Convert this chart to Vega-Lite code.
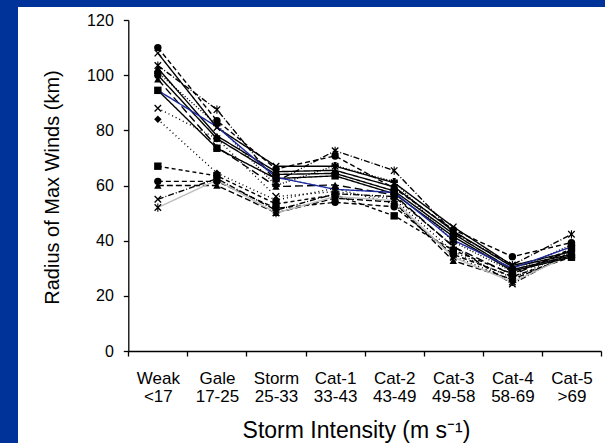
{
  "$schema": "https://vega.github.io/schema/vega-lite/v6.json",
  "width": 587,
  "height": 436,
  "autosize": {"type": "none"},
  "padding": {"left": 18, "top": 7, "right": 0, "bottom": 0},
  "background": "#003399",
  "config": {"view": {"fill": "white", "stroke": null}, "font": "Liberation Sans"},
  "data": {
    "values": [
      {"s": "d1", "Weak|<17": 110, "Gale|17-25": 83.5, "Storm|25-33": 66, "Cat-1|33-43": 70.7, "Cat-2|43-49": 59, "Cat-3|49-58": 44, "Cat-4|58-69": 34.2, "Cat-5|>69": 39.3},
      {"s": "d2", "Weak|<17": 103.5, "Gale|17-25": 87.5, "Storm|25-33": 61.4, "Cat-1|33-43": 72.6, "Cat-2|43-49": 65.4, "Cat-3|49-58": 43, "Cat-4|58-69": 31.2, "Cat-5|>69": 42.3},
      {"s": "d3", "Weak|<17": 101, "Gale|17-25": 82, "Storm|25-33": 60, "Cat-1|33-43": 67.2, "Cat-2|43-49": 61.4, "Cat-3|49-58": 39.6, "Cat-4|58-69": 28.8, "Cat-5|>69": 38.5},
      {"s": "d4", "Weak|<17": 98.5, "Gale|17-25": 74, "Storm|25-33": 59.6, "Cat-1|33-43": 60.2, "Cat-2|43-49": 56.6, "Cat-3|49-58": 37.8, "Cat-4|58-69": 27.6, "Cat-5|>69": 36.6},
      {"s": "d5", "Weak|<17": 88, "Gale|17-25": 77, "Storm|25-33": 56, "Cat-1|33-43": 57.8, "Cat-2|43-49": 55.1, "Cat-3|49-58": 36, "Cat-4|58-69": 26.5, "Cat-5|>69": 36},
      {"s": "d6", "Weak|<17": 84, "Gale|17-25": 64.5, "Storm|25-33": 54.7, "Cat-1|33-43": 59, "Cat-2|43-49": 53.3, "Cat-3|49-58": 34.4, "Cat-4|58-69": 25.7, "Cat-5|>69": 35.2},
      {"s": "d7", "Weak|<17": 67, "Gale|17-25": 63.5, "Storm|25-33": 53.3, "Cat-1|33-43": 56.6, "Cat-2|43-49": 49, "Cat-3|49-58": 36.5, "Cat-4|58-69": 28, "Cat-5|>69": 37},
      {"s": "d8", "Weak|<17": 61.5, "Gale|17-25": 61.5, "Storm|25-33": 51.7, "Cat-1|33-43": 53.9, "Cat-2|43-49": 52.3, "Cat-3|49-58": 35, "Cat-4|58-69": 27, "Cat-5|>69": 34},
      {"s": "d9", "Weak|<17": 60, "Gale|17-25": 60, "Storm|25-33": 50.1, "Cat-1|33-43": 55.4, "Cat-2|43-49": 54, "Cat-3|49-58": 32.7, "Cat-4|58-69": 26, "Cat-5|>69": 34.5},
      {"s": "d10", "Weak|<17": 55, "Gale|17-25": 62.5, "Storm|25-33": 51, "Cat-1|33-43": 57, "Cat-2|43-49": 56, "Cat-3|49-58": 38, "Cat-4|58-69": 24.3, "Cat-5|>69": 36},
      {"s": "g1", "Weak|<17": 52, "Gale|17-25": 62, "Storm|25-33": 50, "Cat-1|33-43": 56, "Cat-2|43-49": 54.5, "Cat-3|49-58": 34, "Cat-4|58-69": 25, "Cat-5|>69": 35},
      {"s": "s1", "Weak|<17": 108, "Gale|17-25": 81, "Storm|25-33": 67, "Cat-1|33-43": 67, "Cat-2|43-49": 61, "Cat-3|49-58": 45, "Cat-4|58-69": 31, "Cat-5|>69": 36},
      {"s": "s2", "Weak|<17": 102.5, "Gale|17-25": 78, "Storm|25-33": 65, "Cat-1|33-43": 65.5, "Cat-2|43-49": 59.5, "Cat-3|49-58": 43.5, "Cat-4|58-69": 30.5, "Cat-5|>69": 35},
      {"s": "s3", "Weak|<17": 100, "Gale|17-25": 77, "Storm|25-33": 64, "Cat-1|33-43": 64.4, "Cat-2|43-49": 58, "Cat-3|49-58": 42.5, "Cat-4|58-69": 29.5, "Cat-5|>69": 34.5},
      {"s": "s4", "Weak|<17": 94.5, "Gale|17-25": 73.5, "Storm|25-33": 62.5, "Cat-1|33-43": 63.5, "Cat-2|43-49": 57, "Cat-3|49-58": 41.5, "Cat-4|58-69": 29, "Cat-5|>69": 34},
      {"s": "blue", "Weak|<17": 94.5, "Gale|17-25": 81.3, "Storm|25-33": 63, "Cat-1|33-43": 58.6, "Cat-2|43-49": 57.5, "Cat-3|49-58": 40.2, "Cat-4|58-69": 30, "Cat-5|>69": 37.8}
    ]
  },
  "transform": [
    {"fold": ["Weak|<17", "Gale|17-25", "Storm|25-33", "Cat-1|33-43", "Cat-2|43-49", "Cat-3|49-58", "Cat-4|58-69", "Cat-5|>69"], "as": ["c", "r"]}
  ],
  "encoding": {
    "x": {
      "field": "c",
      "type": "ordinal",
      "sort": ["Weak|<17", "Gale|17-25", "Storm|25-33", "Cat-1|33-43", "Cat-2|43-49", "Cat-3|49-58", "Cat-4|58-69", "Cat-5|>69"],
      "bandPosition": 0.5,
      "scale": {"type": "band", "range": [110.3, 583], "paddingInner": 0, "paddingOuter": 0},
      "axis": {
        "orient": "bottom",
        "offset": -92,
        "tickBand": "extent",
        "tickSize": 5,
        "tickColor": "black",
        "tickWidth": 1.3,
        "domainColor": "black",
        "domainWidth": 1.3,
        "labelAngle": 0,
        "labelExpr": "split(datum.label, '|')",
        "labelFontSize": 17,
        "labelColor": "black",
        "labelPadding": 14,
        "labelLineHeight": 18,
        "labelBaseline": "top",
        "title": "Storm Intensity (m s⁻¹)",
        "titleFontSize": 23,
        "titleFontWeight": "normal",
        "titleColor": "black",
        "titleX": 338,
        "titleY": 86,
        "titleAlign": "center",
        "titleBaseline": "alphabetic"
      }
    },
    "y": {
      "field": "r",
      "type": "quantitative",
      "scale": {"domain": [0, 120], "range": [344, 13], "nice": false, "zero": true},
      "axis": {
        "orient": "left",
        "offset": -110.3,
        "values": [0, 20, 40, 60, 80, 100, 120],
        "grid": false,
        "tickSize": 5,
        "tickColor": "black",
        "tickWidth": 1.3,
        "domainColor": "black",
        "domainWidth": 1.3,
        "labelFontSize": 16,
        "labelColor": "black",
        "labelPadding": 10,
        "title": "Radius of Max Winds (km)",
        "titleFontSize": 20,
        "titleFontWeight": "normal",
        "titleColor": "black",
        "titleAngle": -90,
        "titleX": -76,
        "titleY": 180,
        "titleAlign": "center",
        "titleBaseline": "middle"
      }
    }
  },
  "layer": [
    {
      "mark": {"type": "line", "strokeWidth": 1.4},
      "encoding": {
        "color": {
          "field": "s",
          "type": "nominal",
          "scale": {
            "domain": ["d1", "d2", "d3", "d4", "d5", "d6", "d7", "d8", "d9", "d10", "g1", "s1", "s2", "s3", "s4", "blue"],
            "range": ["black", "black", "black", "black", "black", "black", "black", "black", "black", "black", "#bdbdbd", "black", "black", "black", "black", "#1c2a9c"]
          },
          "legend": null
        },
        "strokeDash": {
          "field": "s",
          "type": "nominal",
          "scale": {
            "domain": ["d1", "d2", "d3", "d4", "d5", "d6", "d7", "d8", "d9", "d10", "g1", "s1", "s2", "s3", "s4", "blue"],
            "range": [[5, 3], [6, 2, 1, 2], [1, 2], [8, 4], [1, 3], [1, 3], [4, 3], [5, 3], [6, 3], [6, 2, 1, 2], [1, 0], [1, 0], [1, 0], [1, 0], [1, 0], [1, 0]]
          },
          "legend": null
        }
      }
    },
    {
      "transform": [{"filter": "datum.s != 'blue'"}],
      "mark": {"type": "point", "filled": true, "opacity": 1, "color": "black"},
      "encoding": {
        "size": {"value": 55},
        "shape": {
          "field": "s",
          "type": "nominal",
          "scale": {
            "domain": ["d1", "d2", "d3", "d4", "d5", "d6", "d7", "d8", "d9", "d10", "g1", "s1", "s2", "s3", "s4"],
            "range": [
              "circle",
              "M-1,-0.75L-0.75,-1L0,-0.25L0.75,-1L1,-0.75L0.25,0L1,0.75L0.75,1L0,0.25L-0.75,1L-1,0.75L-0.25,0ZM-0.15,-1.1L0.15,-1.1L0.15,1.1L-0.15,1.1Z",
              "cross",
              "triangle-up",
              "M-1,-0.75L-0.75,-1L0,-0.25L0.75,-1L1,-0.75L0.25,0L1,0.75L0.75,1L0,0.25L-0.75,1L-1,0.75L-0.25,0Z",
              "diamond",
              "square",
              "circle",
              "triangle-up",
              "M-1,-0.75L-0.75,-1L0,-0.25L0.75,-1L1,-0.75L0.25,0L1,0.75L0.75,1L0,0.25L-0.75,1L-1,0.75L-0.25,0Z",
              "M-1,-0.75L-0.75,-1L0,-0.25L0.75,-1L1,-0.75L0.25,0L1,0.75L0.75,1L0,0.25L-0.75,1L-1,0.75L-0.25,0ZM-0.15,-1.1L0.15,-1.1L0.15,1.1L-0.15,1.1Z",
              "M-1,-0.75L-0.75,-1L0,-0.25L0.75,-1L1,-0.75L0.25,0L1,0.75L0.75,1L0,0.25L-0.75,1L-1,0.75L-0.25,0Z",
              "triangle-up",
              "circle",
              "square"
            ]
          },
          "legend": null
        }
      }
    }
  ]
}
